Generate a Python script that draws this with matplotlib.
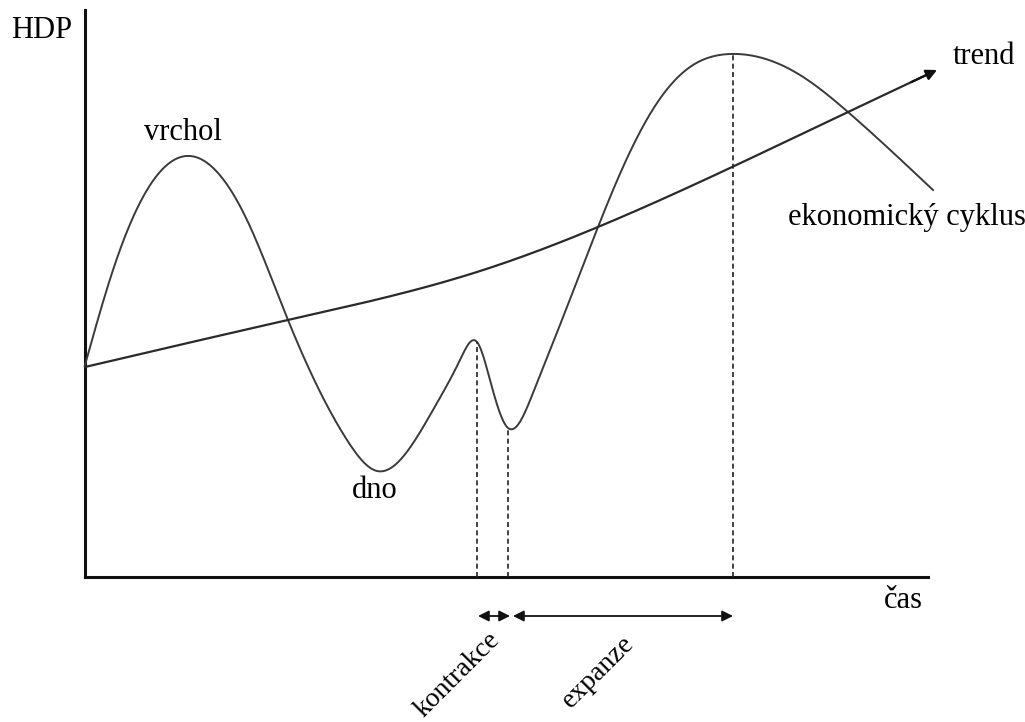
import numpy as np
import matplotlib.pyplot as plt

# hodnoty (čas, HDP)
cycle_t = [0, 28, 62, 105, 162, 203, 262, 292, 348, 375, 392,
           405, 422, 448, 482, 513, 538, 572, 605, 645, 715, 763, 848]
cycle_y = [212, 307, 387, 421, 357, 257, 137, 106, 167, 217, 235,
           197, 150, 184, 270, 350, 410, 474, 510, 523, 502, 465, 387]

trend_t = [0, 203, 392, 513, 645, 763, 852]
trend_y = [210, 257, 305, 350, 409, 465, 507]

turn_t = [392, 423, 648]
turn_y = [235, 150, 523]

contraction = (393, 425)
expansion = (428, 648)


def spline(xs, ys, n=800):
    # přirozený kubický spline, jen pro hladké vykreslení
    x = np.asarray(xs, float)
    y = np.asarray(ys, float)
    h = np.diff(x)
    d = np.diff(y) / h
    k = len(x)
    A = np.zeros((k, k))
    b = np.zeros(k)
    A[0, 0] = A[-1, -1] = 1
    for i in range(1, k - 1):
        A[i, i - 1] = h[i - 1]
        A[i, i] = 2 * (h[i - 1] + h[i])
        A[i, i + 1] = h[i]
        b[i] = 6 * (d[i] - d[i - 1])
    M = np.linalg.solve(A, b)
    xx = np.linspace(x[0], x[-1], n)
    i = np.clip(np.searchsorted(x, xx) - 1, 0, k - 2)
    hi = h[i]
    a = x[i + 1] - xx
    c = xx - x[i]
    yy = (M[i] * a ** 3 / (6 * hi) + M[i + 1] * c ** 3 / (6 * hi)
          + (y[i] / hi - M[i] * hi / 6) * a + (y[i + 1] / hi - M[i + 1] * hi / 6) * c)
    return xx, yy


plt.rcParams['font.family'] = ['Liberation Serif', 'DejaVu Serif']

fig = plt.figure(figsize=(10.25, 7.22), dpi=100)
ax = fig.add_axes([0, 0, 1, 1])
ax.set_xlim(-85, 940)
ax.set_ylim(-145, 577)
ax.axis('off')

# osy
ax.plot([0, 0], [0, 567], color='#111111', lw=2.2)
ax.plot([0, 843], [0, 0], color='#111111', lw=2.2)

cx, cy = spline(cycle_t, cycle_y)
ax.plot(cx, cy, color='#3a3a3a', lw=1.4)

tx, ty = spline(trend_t, trend_y)
ax.plot(tx[:-10], ty[:-10], color='#2a2a2a', lw=1.6)
ax.annotate('', xy=(tx[-1], ty[-1]), xytext=(tx[-25], ty[-25]),
            arrowprops=dict(arrowstyle='-|>', color='#111111', lw=1.6,
                            mutation_scale=16, shrinkA=0, shrinkB=0))

for t, y in zip(turn_t, turn_y):
    ax.plot([t, t], [0, y], color='#222222', lw=1.2, ls=(0, (3, 2)))

for a, b in [contraction, expansion]:
    ax.annotate('', xy=(a, -39), xytext=(b, -39),
                arrowprops=dict(arrowstyle='<|-|>', color='#111111', lw=1.3,
                                mutation_scale=16, shrinkA=0, shrinkB=0))

fs = 22
ax.text(-43, 547, 'HDP', fontsize=fs, ha='center', va='center')
ax.text(98, 444, 'vrchol', fontsize=fs, ha='center', va='center')
ax.text(290, 87, 'dno', fontsize=fs, ha='center', va='center')
ax.text(868, 520, 'trend', fontsize=fs, ha='left', va='center')
ax.text(822, 359, 'ekonomický cyklus', fontsize=fs, ha='center', va='center')
ax.text(818, -23, 'čas', fontsize=fs, ha='center', va='center')
ax.text(373, -98, 'kontrakce', fontsize=20, ha='center', va='center',
        rotation=45, rotation_mode='anchor')
ax.text(513, -95, 'expanze', fontsize=20, ha='center', va='center',
        rotation=45, rotation_mode='anchor')

fig.savefig('out.png', dpi=100, facecolor='white')
